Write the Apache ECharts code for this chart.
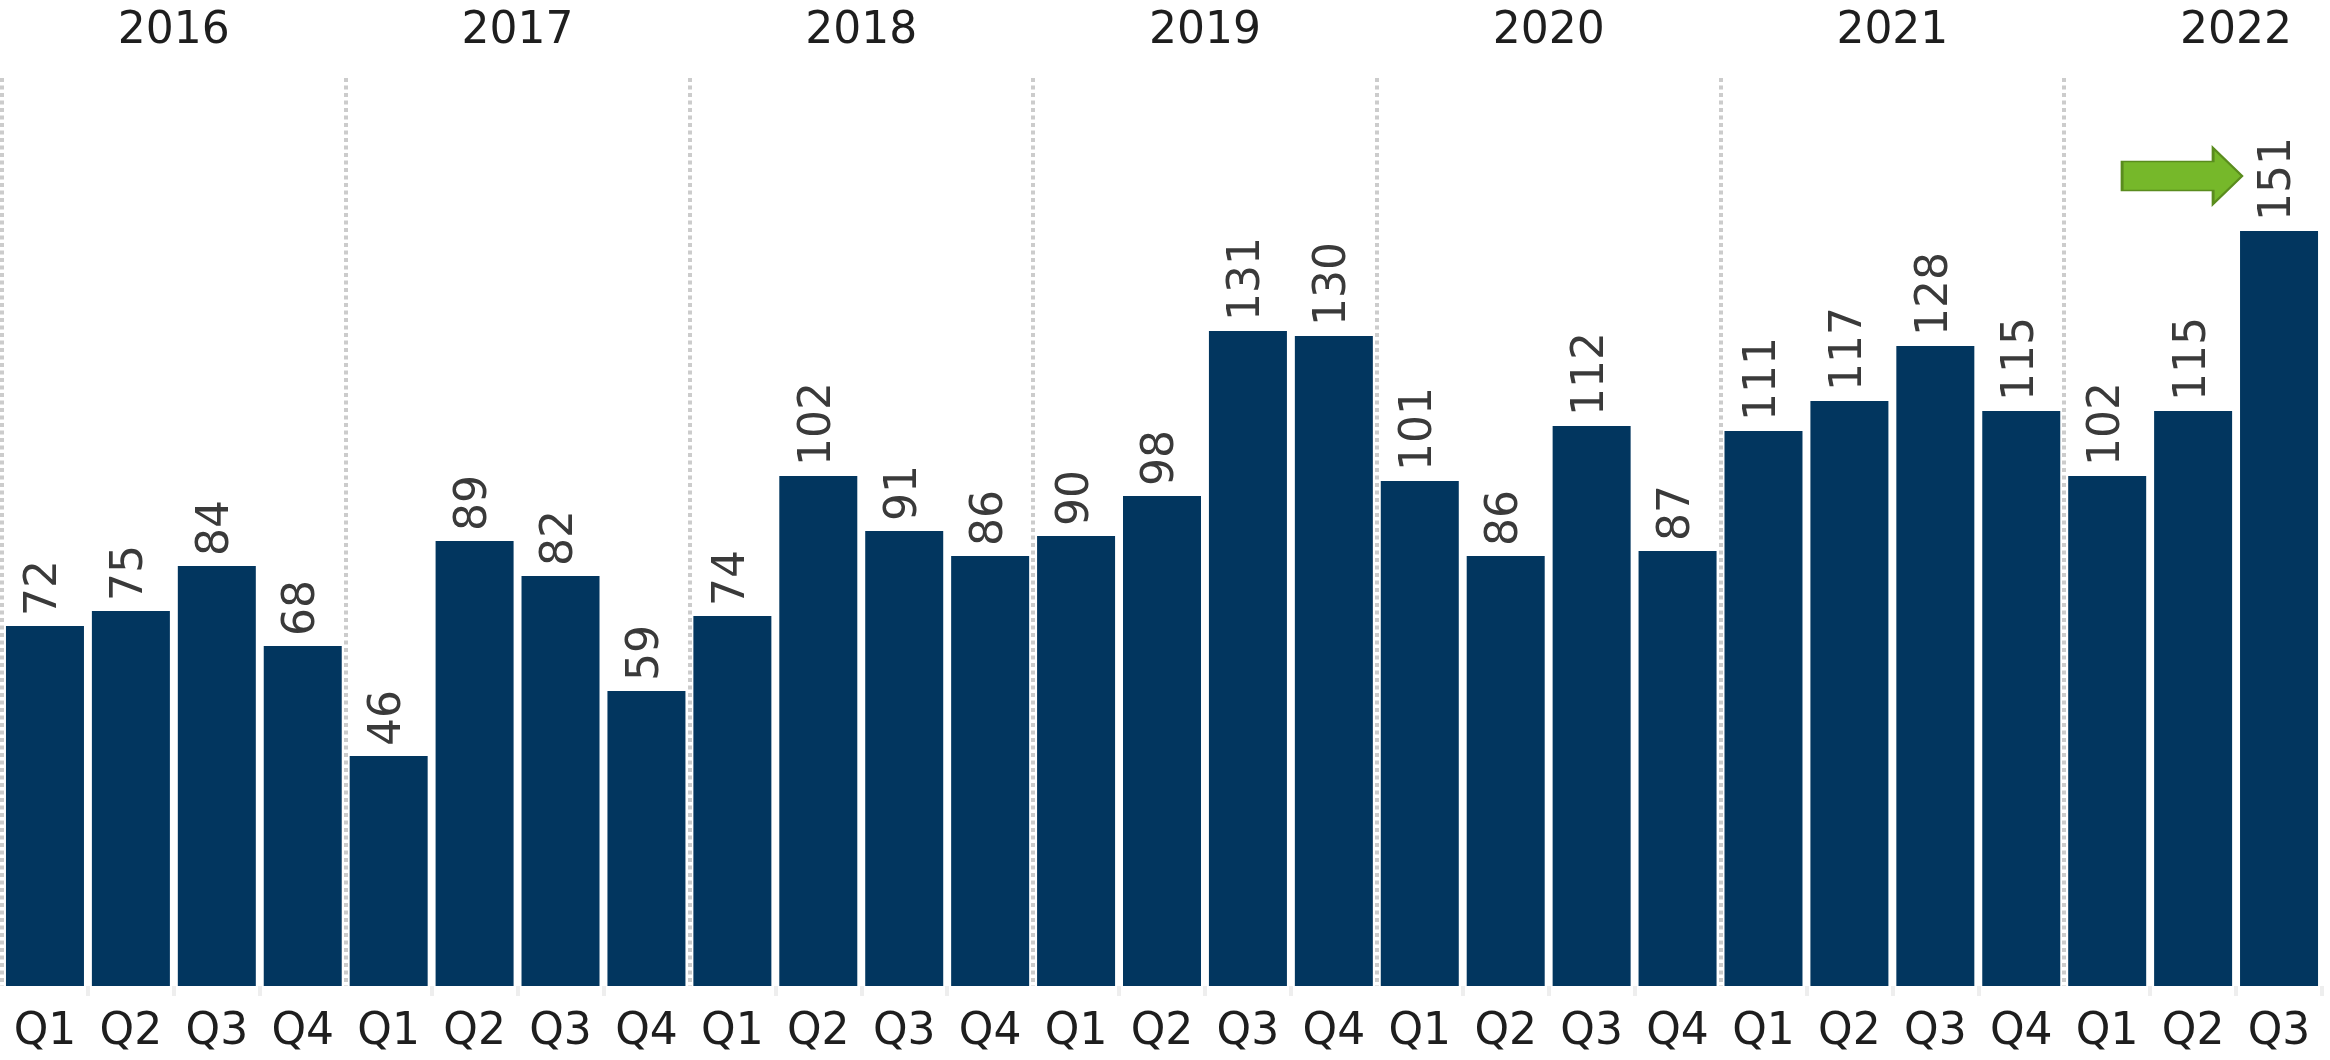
<!DOCTYPE html>
<html>
<head>
    <meta charset="UTF-8">
    <title>Quarterly chart</title>
    <script src="https://cdn.jsdelivr.net/npm/echarts@6/dist/echarts.min.js"></script>
    <style>
        html, body { margin: 0; padding: 0; background: #fff; }
        #main { width: 2330px; height: 1060px; }
    </style>
</head>
<body>
<div id="main"></div>
<script type="text/javascript">
    // data
    var years = ['2016', '2017', '2018', '2019', '2020', '2021', '2022'];
    var quarters = ['Q1', 'Q2', 'Q3', 'Q4'];
    var v2016 = [72, 75, 84, 68];
    var v2017 = [46, 89, 82, 59];
    var v2018 = [74, 102, 91, 86];
    var v2019 = [90, 98, 131, 130];
    var v2020 = [101, 86, 112, 87];
    var v2021 = [111, 117, 128, 115];
    var v2022 = [102, 115, 151];
    var arrowAt = { index: 25, value: 162 };

    var yearValues = [v2016, v2017, v2018, v2019, v2020, v2021, v2022];
    var categories = [];
    var values = [];
    yearValues.forEach(function (list, y) {
        list.forEach(function (v, q) {
            categories.push(years[y] + ' ' + quarters[q]);
            values.push(v);
        });
    });
    // year label sits in the middle of its 4-quarter block
    var yearCenters = years.map(function (y, i) { return i * 4 + 2; });

    var font = 'DejaVu Sans';
    var chart = echarts.init(document.getElementById('main'));
    chart.setOption({
        animation: false,
        backgroundColor: '#ffffff',
        grid: { left: 2, right: 8, top: 78, bottom: 74 },
        xAxis: [{
            type: 'category',
            data: categories,
            position: 'bottom',
            offset: 4,
            axisLine: { show: false },
            axisTick: {
                show: true,
                length: 10,
                interval: function (index) { return index % 4 !== 0; },
                lineStyle: { color: '#eeeeee', width: 4 }
            },
            axisLabel: {
                interval: 0,
                margin: 21,
                fontFamily: font,
                fontSize: 44,
                color: '#1e1e1e',
                formatter: function (v) { return v.split(' ')[1]; }
            },
            splitLine: { show: false }
        }, {
            type: 'value',
            position: 'top',
            min: 0,
            max: categories.length,
            interval: 4,
            axisLine: { show: false },
            axisTick: { show: false },
            axisLabel: {
                customValues: yearCenters,
                margin: 24,
                fontFamily: font,
                fontSize: 44,
                color: '#1e1e1e',
                formatter: function (v) { return years[(v - 2) / 4]; }
            },
            splitLine: {
                show: true,
                showMaxLine: false,
                lineStyle: { color: '#cccccc', width: 4, type: [4, 3.5] }
            }
        }],
        yAxis: {
            type: 'value',
            min: 0,
            max: 181.6,
            show: false,
            splitLine: { show: false }
        },
        series: [{
            type: 'bar',
            xAxisIndex: 0,
            data: values,
            barWidth: 78,
            itemStyle: { color: '#02365f' },
            label: {
                show: true,
                position: 'top',
                rotate: 90,
                align: 'left',
                verticalAlign: 'middle',
                distance: 10,
                fontFamily: font,
                fontSize: 44,
                color: '#3a3a3a'
            },
            markPoint: {
                silent: true,
                symbol: 'path://M0,13 L91,13 L91,0 L120,27 L91,54 L91,41 L0,41 Z',
                symbolSize: [120, 56],
                symbolOffset: [-11, 0],
                itemStyle: { color: '#76b82a', borderColor: '#5a8c1e', borderWidth: 2 },
                label: { show: false },
                data: [{ coord: [arrowAt.index, arrowAt.value] }]
            }
        }]
    });
</script>
</body>
</html>
